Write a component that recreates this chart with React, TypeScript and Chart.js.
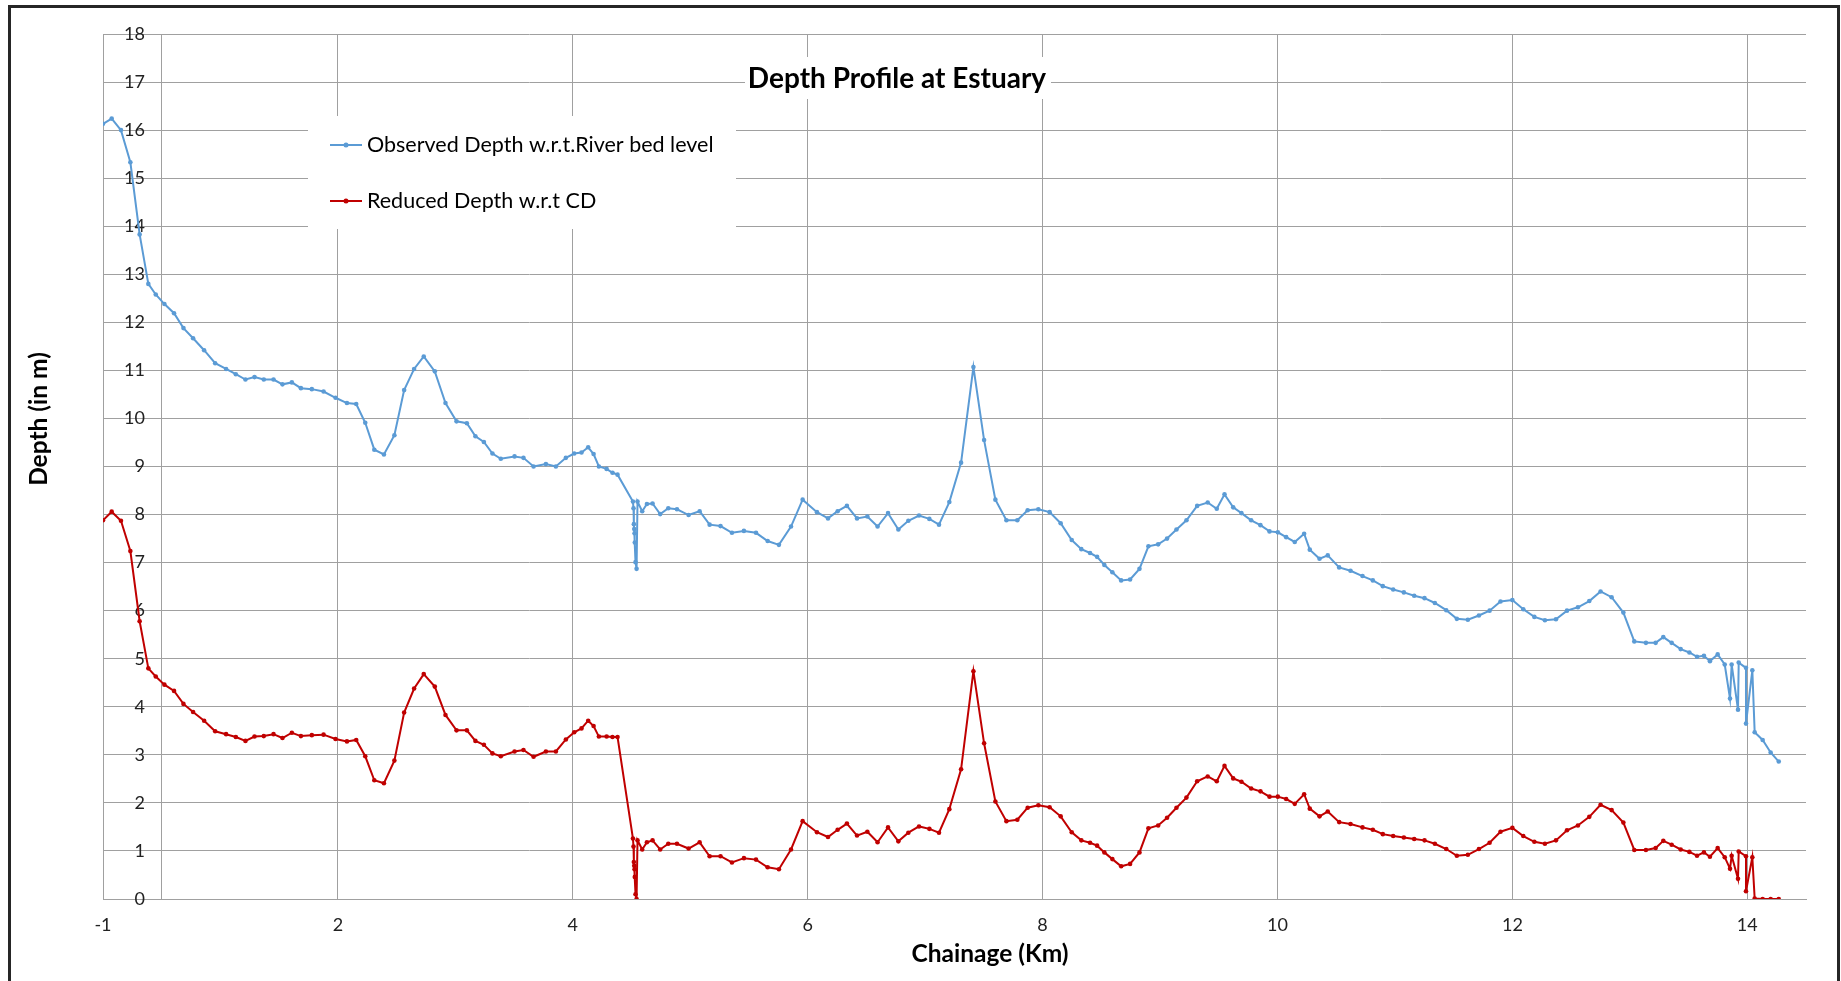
import React, { useEffect, useRef } from "react";
import { Chart, registerables } from "chart.js";

Chart.register(...registerables);

// Chainage positions (plotted on the chart's linear x scale)
const CHAINAGE = [
  0, 0.074, 0.153, 0.233, 0.312, 0.386, 0.449, 0.523, 0.605, 0.685, 0.767, 0.861, 0.955, 1.048, 1.131,
  1.213, 1.29, 1.369, 1.452, 1.528, 1.608, 1.685, 1.778, 1.878, 1.98, 2.077, 2.156, 2.233, 2.31, 2.392,
  2.481, 2.564, 2.649, 2.731, 2.825, 2.916, 3.01, 3.098, 3.171, 3.243, 3.316, 3.387, 3.504, 3.58, 3.666,
  3.771, 3.856, 3.941, 4.012, 4.074, 4.131, 4.177, 4.222, 4.288, 4.338, 4.381,
  4.512, 4.517, 4.52, 4.523, 4.526, 4.528, 4.534, 4.543, 4.551,
  4.591, 4.631, 4.679, 4.744, 4.813, 4.887, 4.986, 5.08, 5.165, 5.258, 5.355, 5.457, 5.56, 5.659, 5.755,
  5.858, 5.957, 6.079, 6.173, 6.255, 6.334, 6.42, 6.508, 6.595, 6.684, 6.772, 6.857, 6.948, 7.036, 7.118,
  7.206, 7.306, 7.411, 7.502, 7.598, 7.692, 7.785, 7.873, 7.964, 8.06, 8.154, 8.248, 8.33, 8.404, 8.464,
  8.526, 8.594, 8.669, 8.745, 8.825, 8.901, 8.984, 9.06, 9.14, 9.225, 9.316, 9.406, 9.483, 9.549,
  9.623, 9.693, 9.776, 9.855, 9.932, 10.003, 10.074, 10.147, 10.227, 10.275, 10.358, 10.428, 10.525, 10.622,
  10.724, 10.812, 10.897, 10.985, 11.076, 11.164, 11.252, 11.34, 11.437, 11.527, 11.621, 11.715, 11.806, 11.899,
  12.0, 12.093, 12.187, 12.277, 12.371, 12.465, 12.558, 12.655, 12.751, 12.845, 12.945, 13.038, 13.137, 13.22,
  13.285, 13.356, 13.433, 13.507, 13.572, 13.631, 13.682, 13.748, 13.808, 13.853, 13.867, 13.921, 13.927,
  13.989, 13.989, 14.043, 14.063, 14.131, 14.199, 14.268,
];

// Observed Depth w.r.t. River bed level (m)
const OBSERVED = [
  16.13, 16.24, 16.0, 15.33, 13.83, 12.8, 12.58, 12.38, 12.19, 11.88, 11.67, 11.42, 11.15, 11.03, 10.92,
  10.81, 10.86, 10.81, 10.81, 10.71, 10.75, 10.63, 10.61, 10.56, 10.43, 10.32, 10.3, 9.91, 9.35, 9.25,
  9.65, 10.59, 11.03, 11.29, 10.98, 10.32, 9.94, 9.9, 9.63, 9.51, 9.27, 9.16, 9.21, 9.18, 9.0,
  9.05, 9.0, 9.18, 9.27, 9.29, 9.4, 9.26, 9.0, 8.95, 8.87, 8.83,
  8.27, 8.13, 7.8, 7.7, 7.61, 7.42, 7.01, 6.87, 8.27,
  8.07, 8.22, 8.23, 8.01, 8.13, 8.11, 7.99, 8.07, 7.79, 7.76, 7.62, 7.66, 7.62, 7.45, 7.37,
  7.75, 8.31, 8.05, 7.92, 8.07, 8.18, 7.92, 7.96, 7.75, 8.03, 7.69, 7.87, 7.98, 7.91, 7.79,
  8.26, 9.08, 11.07, 9.55, 8.31, 7.88, 7.88, 8.09, 8.11, 8.05, 7.82, 7.47, 7.28, 7.2, 7.12,
  6.95, 6.8, 6.63, 6.65, 6.87, 7.34, 7.38, 7.5, 7.69, 7.88, 8.18, 8.25, 8.12, 8.42,
  8.15, 8.03, 7.88, 7.78, 7.65, 7.63, 7.53, 7.43, 7.6, 7.27, 7.08, 7.15, 6.9, 6.83,
  6.72, 6.63, 6.51, 6.44, 6.38, 6.31, 6.26, 6.16, 6.01, 5.83, 5.81, 5.9, 6.0, 6.19,
  6.22, 6.03, 5.87, 5.8, 5.82, 6.0, 6.07, 6.2, 6.4, 6.28, 5.96, 5.36, 5.33, 5.33,
  5.45, 5.33, 5.2, 5.13, 5.04, 5.06, 4.95, 5.09, 4.88, 4.17, 4.88, 3.94, 4.92,
  4.81, 3.65, 4.76, 3.47, 3.31, 3.05, 2.86,
];

// Reduced Depth w.r.t. CD (m)
const REDUCED = [
  7.88, 8.06, 7.87, 7.24, 5.78, 4.8, 4.63, 4.46, 4.33, 4.06, 3.89, 3.71, 3.49, 3.43, 3.37,
  3.29, 3.38, 3.39, 3.43, 3.35, 3.46, 3.39, 3.41, 3.42, 3.33, 3.28, 3.31, 2.97, 2.47, 2.41,
  2.88, 3.88, 4.38, 4.68, 4.42, 3.83, 3.51, 3.51, 3.29, 3.21, 3.03, 2.97, 3.07, 3.1, 2.96,
  3.07, 3.07, 3.32, 3.47, 3.55, 3.71, 3.6, 3.38, 3.38, 3.37, 3.37,
  1.26, 1.09, 0.77, 0.69, 0.62, 0.46, 0.1, 0.0, 1.22,
  1.03, 1.18, 1.22, 1.03, 1.15, 1.15, 1.05, 1.18, 0.89, 0.89, 0.76, 0.85, 0.82, 0.66, 0.62,
  1.03, 1.62, 1.39, 1.29, 1.44, 1.57, 1.32, 1.4, 1.18, 1.49, 1.2, 1.38, 1.51, 1.46, 1.38,
  1.87, 2.7, 4.74, 3.24, 2.03, 1.62, 1.65, 1.9, 1.95, 1.91, 1.72, 1.39, 1.22, 1.17, 1.11,
  0.97, 0.83, 0.68, 0.73, 0.97, 1.47, 1.53, 1.69, 1.9, 2.11, 2.45, 2.55, 2.45, 2.77,
  2.51, 2.44, 2.3, 2.24, 2.13, 2.13, 2.08, 1.98, 2.18, 1.88, 1.72, 1.82, 1.6, 1.56,
  1.49, 1.44, 1.35, 1.31, 1.28, 1.25, 1.22, 1.15, 1.04, 0.9, 0.92, 1.04, 1.17, 1.4,
  1.48, 1.31, 1.19, 1.15, 1.22, 1.43, 1.53, 1.71, 1.96, 1.85, 1.59, 1.02, 1.02, 1.06,
  1.21, 1.13, 1.03, 0.98, 0.9, 0.97, 0.88, 1.06, 0.87, 0.63, 0.9, 0.42, 0.99,
  0.89, 0.16, 0.87, 0.01, 0.0, 0.0, 0.0,
];

const X_TICKS = [0, 0.5, 2, 4, 6, 8, 10, 12, 14];
const X_TICK_LABELS: Record<string, string> = {
  "0": "-1", "0.5": "", "2": "2", "4": "4", "6": "6", "8": "8", "10": "10", "12": "12", "14": "14",
};

const TITLE = "Depth Profile at Estuary";
const X_TITLE = "Chainage (Km)";
const Y_TITLE = "Depth (in m)";
const SERIES_NAMES = ["Observed Depth w.r.t.River bed level", "Reduced Depth w.r.t CD"];
const SERIES_COLORS = ["#5b9bd5", "#c00000"];

const FONT = "Lato, 'Open Sans', sans-serif";
const GRID = "#a0a0a0";

const overlayPlugin = {
  id: "overlay",
  afterDatasetsDraw(chart: any) {
    const ctx = chart.ctx as CanvasRenderingContext2D;
    ctx.save();
    // Title with white box
    ctx.fillStyle = "#ffffff";
    ctx.fillRect(745, 57, 306, 42);
    ctx.fillStyle = "#000000";
    ctx.font = `bold 28px ${FONT}`;
    ctx.textAlign = "center";
    ctx.textBaseline = "middle";
    ctx.fillText(TITLE, 897, 79);

    // Legend
    ctx.fillStyle = "#ffffff";
    ctx.fillRect(308, 116, 428, 113);
    chart.data.datasets.forEach((ds: any, i: number) => {
      const y = 145 + i * 56;
      ctx.strokeStyle = ds.borderColor;
      ctx.lineWidth = 2;
      ctx.beginPath();
      ctx.moveTo(330, y);
      ctx.lineTo(362, y);
      ctx.stroke();
      ctx.fillStyle = ds.borderColor;
      ctx.beginPath();
      ctx.arc(346, y, 2.5, 0, Math.PI * 2);
      ctx.fill();
      ctx.fillStyle = "#000000";
      ctx.font = `21.5px ${FONT}`;
      ctx.textAlign = "left";
      ctx.textBaseline = "middle";
      ctx.fillText(ds.label, 367, y);
    });

    // Axis titles
    ctx.fillStyle = "#000000";
    ctx.font = `bold 24.5px ${FONT}`;
    ctx.textAlign = "center";
    ctx.textBaseline = "middle";
    ctx.fillText(X_TITLE, 990, 954);
    ctx.save();
    ctx.translate(39, 419);
    ctx.rotate(-Math.PI / 2);
    ctx.fillText(Y_TITLE, 0, 0);
    ctx.restore();
    ctx.restore();
  },
};

export default function App() {
  const canvasRef = useRef<HTMLCanvasElement | null>(null);

  useEffect(() => {
    const canvas = canvasRef.current;
    if (!canvas) return;
    const makeData = (vals: number[]) => CHAINAGE.map((x, i) => ({ x, y: vals[i] }));
    const chart = new Chart(canvas, {
      type: "line",
      data: {
        datasets: [OBSERVED, REDUCED].map((vals, i) => ({
          label: SERIES_NAMES[i],
          data: makeData(vals),
          borderColor: SERIES_COLORS[i],
          backgroundColor: SERIES_COLORS[i],
          pointBackgroundColor: SERIES_COLORS[i],
          pointBorderColor: SERIES_COLORS[i],
          pointRadius: 2.3,
          pointBorderWidth: 0,
          borderWidth: 2,
          tension: 0,
          fill: false,
        })),
      },
      options: {
        animation: false,
        responsive: false,
        devicePixelRatio: 1,
        layout: { padding: { left: 103, top: 34, right: 35, bottom: 42 } },
        plugins: {
          legend: { display: false },
          title: { display: false },
          tooltip: { enabled: false },
        },
        scales: {
          x: {
            type: "linear",
            min: 0,
            max: 14.5,
            afterBuildTicks: (s: any) => {
              s.ticks = X_TICKS.map((v) => ({ value: v }));
            },
            afterFit: (s: any) => {
              s.height = 40;
            },
            ticks: {
              autoSkip: false,
              maxRotation: 0,
              padding: 15,
              color: "#222222",
              font: { family: FONT, size: 18 },
              callback: (v: any) => X_TICK_LABELS[String(v)] ?? String(v),
            },
            grid: { color: GRID, drawTicks: false, lineWidth: 1 },
            border: { display: true, color: GRID },
          },
          y: {
            type: "linear",
            min: 0,
            max: 18,
            afterFit: (s: any) => {
              s.width = 0;
            },
            ticks: {
              stepSize: 1,
              mirror: true,
              crossAlign: "far",
              padding: 21,
              color: "#222222",
              font: { family: FONT, size: 18 },
            },
            grid: { color: GRID, drawTicks: false, lineWidth: 1 },
            border: { display: true, color: GRID },
          },
        },
      },
      plugins: [overlayPlugin],
    } as any);
    return () => chart.destroy();
  }, []);

  return (
    <div
      style={{
        position: "fixed",
        left: 0,
        top: 0,
        width: 1841,
        height: 981,
        background: "#ffffff",
        overflow: "hidden",
      }}
    >
      <canvas ref={canvasRef} width={1841} height={981} style={{ display: "block" }} />
      <div
        style={{
          position: "absolute",
          left: 8,
          top: 5,
          width: 1832,
          height: 995,
          boxSizing: "border-box",
          border: "3px solid #262626",
          pointerEvents: "none",
        }}
      />
    </div>
  );
}
